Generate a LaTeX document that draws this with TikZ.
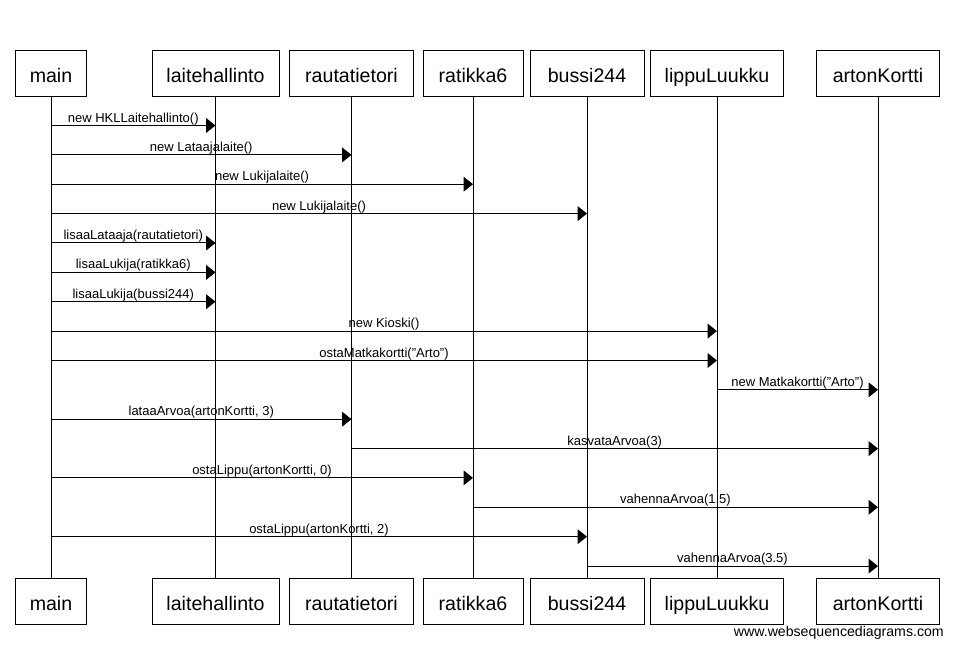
\documentclass[tikz,border=0pt]{standalone}
\usepackage{fontspec}
\setmainfont{Liberation Sans}
\usetikzlibrary{arrows.meta}
\begin{document}
\begin{tikzpicture}[x=0.75pt,y=-0.75pt,
  pbox/.style={draw, line width=0.75pt, minimum height=34.5pt, inner sep=0pt,
    font=\fontsize{14.7pt}{17pt}\selectfont, text height=13.5pt, text depth=0pt},
  life/.style={line width=0.75pt},
  msg/.style={line width=0.75pt, -{Triangle[length=7pt,width=11pt]}},
  lbl/.style={anchor=base, yshift=2.6pt, inner sep=0pt, font=\fontsize{9.75pt}{11pt}\selectfont},
  wmark/.style={anchor=base east, inner sep=0pt, font=\fontsize{10.6pt}{12pt}\selectfont}]
\useasboundingbox (0,0) rectangle (954,648);

% participants (top)
\node[pbox, minimum width=53.25pt] (mainT) at (51,74) {main};
\node[pbox, minimum width=95.25pt] (laiT) at (215.5,74) {laitehallinto};
\node[pbox, minimum width=93pt] (rauT) at (351.5,74) {rautatietori};
\node[pbox, minimum width=75pt] (ratT) at (473,74) {ratikka6};
\node[pbox, minimum width=85.5pt] (busT) at (587,74) {bussi244};
\node[pbox, minimum width=99.75pt] (lipT) at (717,74) {lippuLuukku};
\node[pbox, minimum width=92.25pt] (artT) at (878,74) {artonKortti};
% participants (bottom)
\node[pbox, minimum width=53.25pt] (mainB) at (51,601.5) {main};
\node[pbox, minimum width=95.25pt] (laiB) at (215.5,601.5) {laitehallinto};
\node[pbox, minimum width=93pt] (rauB) at (351.5,601.5) {rautatietori};
\node[pbox, minimum width=75pt] (ratB) at (473,601.5) {ratikka6};
\node[pbox, minimum width=85.5pt] (busB) at (587,601.5) {bussi244};
\node[pbox, minimum width=99.75pt] (lipB) at (717,601.5) {lippuLuukku};
\node[pbox, minimum width=92.25pt] (artB) at (878,601.5) {artonKortti};

% lifelines
\draw[life] (mainT) -- (mainB);
\draw[life] (laiT) -- (laiB);
\draw[life] (rauT) -- (rauB);
\draw[life] (ratT) -- (ratB);
\draw[life] (busT) -- (busB);
\draw[life] (lipT) -- (lipB);
\draw[life] (artT) -- (artB);

% messages
\draw[msg] (mainT |- 0,125.5) -- node[lbl]{new HKLLaitehallinto()} (laiT |- 0,125.5);
\draw[msg] (mainT |- 0,154.9) -- node[lbl]{new Lataajalaite()} (rauT |- 0,154.9);
\draw[msg] (mainT |- 0,184.2) -- node[lbl]{new Lukijalaite()} (ratT |- 0,184.2);
\draw[msg] (mainT |- 0,213.6) -- node[lbl]{new Lukijalaite()} (busT |- 0,213.6);
\draw[msg] (mainT |- 0,243.0) -- node[lbl]{lisaaLataaja(rautatietori)} (laiT |- 0,243.0);
\draw[msg] (mainT |- 0,272.4) -- node[lbl]{lisaaLukija(ratikka6)} (laiT |- 0,272.4);
\draw[msg] (mainT |- 0,301.7) -- node[lbl]{lisaaLukija(bussi244)} (laiT |- 0,301.7);
\draw[msg] (mainT |- 0,331.1) -- node[lbl]{new Kioski()} (lipT |- 0,331.1);
\draw[msg] (mainT |- 0,360.5) -- node[lbl]{ostaMatkakortti(\symbol{34}Arto\symbol{34})} (lipT |- 0,360.5);
\draw[msg] (lipT |- 0,389.8) -- node[lbl]{new Matkakortti(\symbol{34}Arto\symbol{34})} (artT |- 0,389.8);
\draw[msg] (mainT |- 0,419.2) -- node[lbl]{lataaArvoa(artonKortti, 3)} (rauT |- 0,419.2);
\draw[msg] (rauT |- 0,448.6) -- node[lbl]{kasvataArvoa(3)} (artT |- 0,448.6);
\draw[msg] (mainT |- 0,477.9) -- node[lbl]{ostaLippu(artonKortti, 0)} (ratT |- 0,477.9);
\draw[msg] (ratT |- 0,507.3) -- node[lbl]{vahennaArvoa(1.5)} (artT |- 0,507.3);
\draw[msg] (mainT |- 0,536.7) -- node[lbl]{ostaLippu(artonKortti, 2)} (busT |- 0,536.7);
\draw[msg] (busT |- 0,566.1) -- node[lbl]{vahennaArvoa(3.5)} (artT |- 0,566.1);

\node[wmark] (wm) at (944,636.5) {www.websequencediagrams.com};
\end{tikzpicture}
\end{document}
